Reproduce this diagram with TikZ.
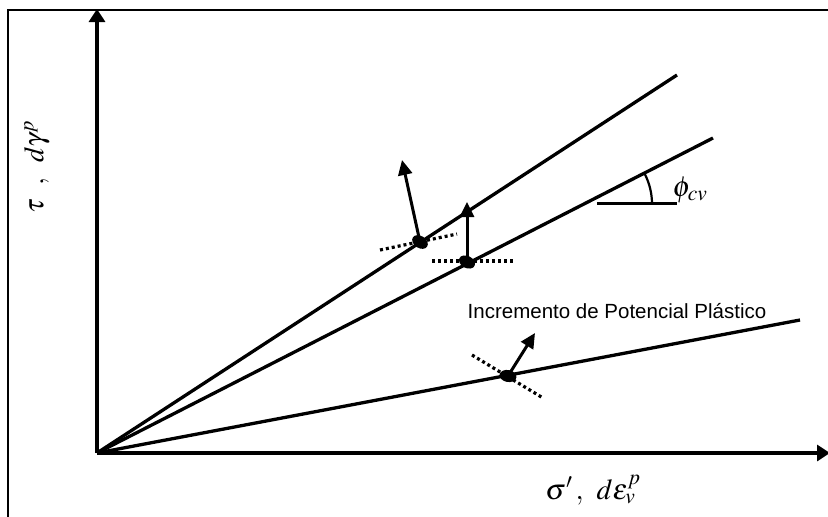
\documentclass[tikz,border=0pt]{standalone}
\usepackage{mathptmx}
\usepackage{fontspec}
\newfontfamily\arialf{Liberation Sans}
\usetikzlibrary{arrows.meta,shapes.geometric}
\tikzset{
  axisline/.style={line width=3.3pt,-{Triangle[length=13pt,width=16pt]}},
  ray/.style={line width=3.3pt},
  vec/.style={line width=3pt,-{Triangle[length=15pt,width=14pt]}},
  dotline/.style={line width=3.2pt,dash pattern=on 3pt off 3pt},
  blob/.style={fill=black,draw=none,ellipse,inner sep=0pt,minimum width=17pt,minimum height=12pt}
}
\begin{document}
\begin{tikzpicture}[x=1pt,y=-1pt]
\useasboundingbox (0,0) rectangle (828,517);
% frame
\draw[line width=2.6pt] (8,517) -- (8,10) -- (828,10);
\coordinate (O) at (97,453);
\coordinate (Ytop) at (97,9);
\coordinate (Xend) at (830,453);
\draw[axisline] (O) -- (Ytop);
\draw[axisline] (O) -- (Xend);
% rays
\coordinate (R1) at (677,75);
\coordinate (R2) at (713,138);
\coordinate (R3) at (800,320);
\draw[ray] (O) -- (R1);
\draw[ray] (O) -- (R2);
\draw[ray] (O) -- (R3);
% angle
\coordinate (H1) at (597,203);
\coordinate (H2) at (677,203);
\draw[line width=3pt] (H1) -- (H2);
\draw[line width=2.2pt] (652,204) arc[start angle=0,end angle=-27,radius=66];
\node[font=\fontsize{29}{29}\selectfont] (phi) at (690,190) {$\phi_{cv}$};
% dotted lines
\draw[dotline] (380,250) -- (457,234);
\draw[dotline] (432,261) -- (513,261);
\draw[dotline] (472,355) -- (543,398);
% dots
\node[blob,rotate=-33] (D1) at (420,242) {};
\node[blob,rotate=-27] (D2) at (467,262) {};
\node[blob,rotate=-11] (D3) at (508,376) {};
% vectors
\coordinate (V1) at (402,160);
\coordinate (V2) at (467,202);
\coordinate (V3) at (535,333);
\draw[vec] (D1.center) -- (V1);
\draw[vec] (D2.center) -- (V2);
\draw[vec] (D3.center) -- (V3);
% labels
\node[font=\arialf\fontsize{20.5}{20.5}\selectfont] (lab) at (617,311) {Incremento de Potencial Plástico};
\node[font=\fontsize{29}{29}\selectfont] (xl) at (593,490) {$\sigma'\,,\;\,d\varepsilon_v^p$};
\node[font=\fontsize{28}{28}\selectfont,rotate=90] (yl) at (37,167) {$\tau\;\;,\;\;d\gamma^p$};
\end{tikzpicture}
\end{document}
